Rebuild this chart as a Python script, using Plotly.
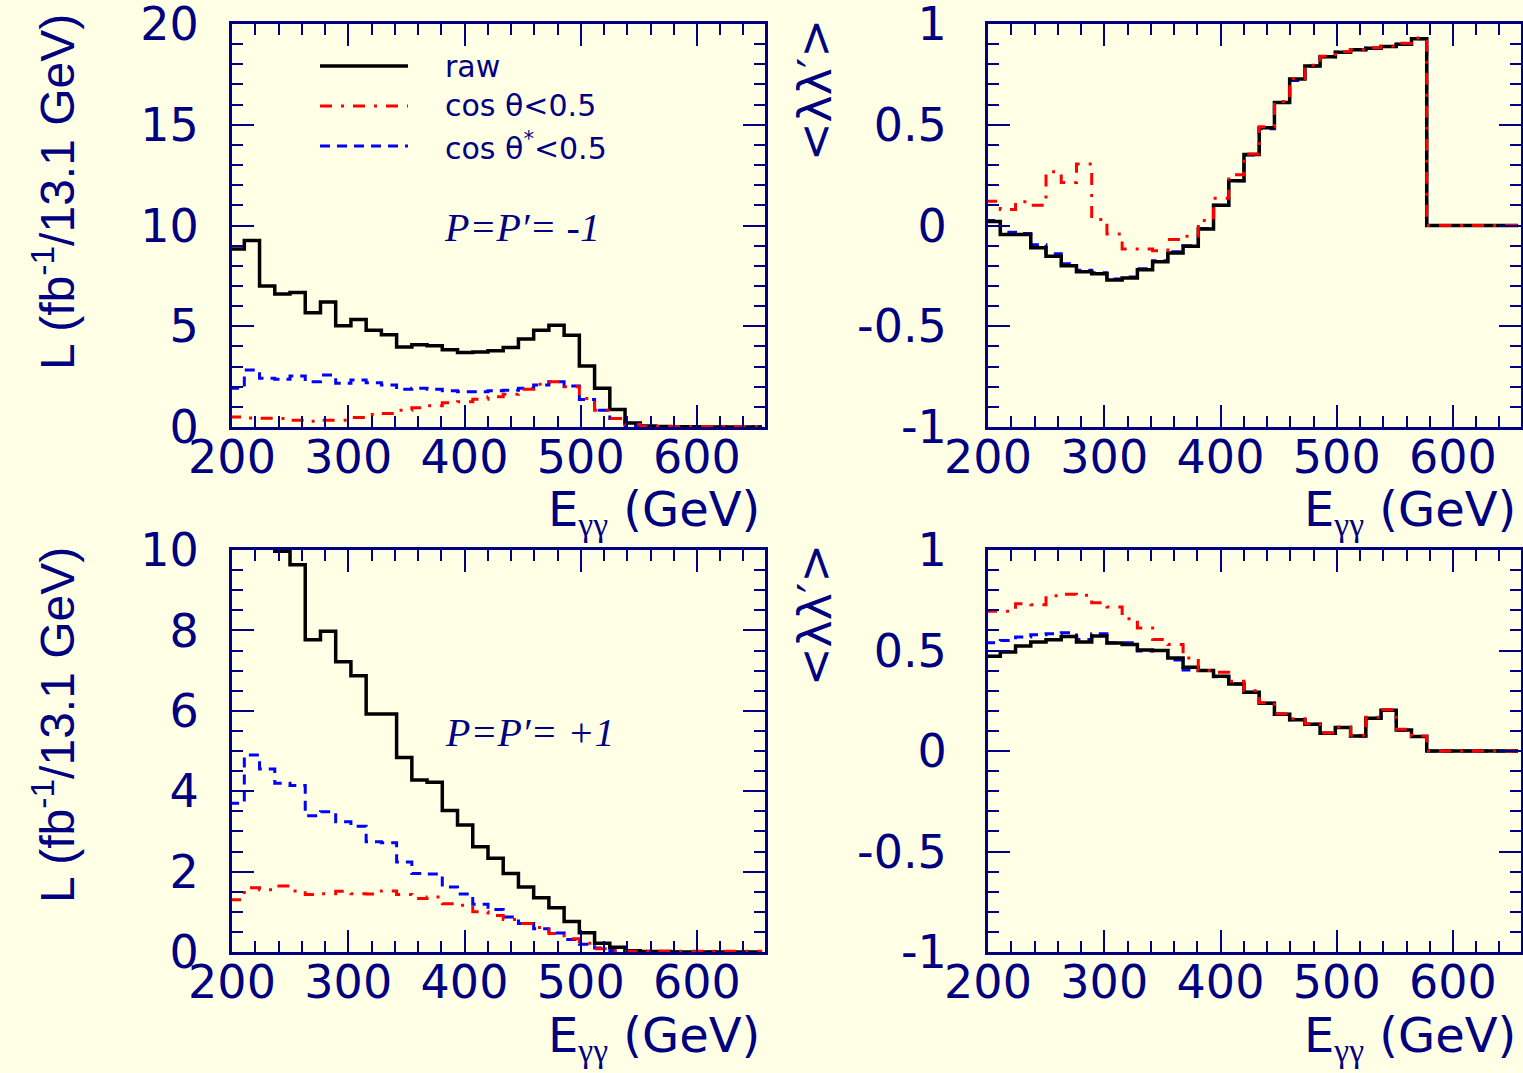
import plotly.graph_objects as go

W, H = 1523, 1073
BG = "#FFFFE6"
NAVY = "#000080"

# ---------------- data ----------------
BIN_LO = 197.5      # first bin edge (GeV)
BIN_W = 13.1        # bin width (GeV)
N_BINS = 35
edges = [BIN_LO + BIN_W * i for i in range(N_BINS + 1)]

# P = P' = -1 : luminosity (fb^-1 / 13.1 GeV)
lum_m_raw = [8.83, 9.25, 7.0, 6.6, 6.67, 5.67, 6.2, 5.03, 5.33, 4.8, 4.58, 3.97, 4.08, 4.03, 3.83,
             3.7, 3.72, 3.78, 3.95, 4.37, 4.8, 5.05, 4.55, 3.03, 1.92, 0.87, 0.2, 0.05, 0.02, 0.01,
             0.01, 0.0, 0.0, 0.0, 0.0]
lum_m_cos = [0.5, 0.45, 0.43, 0.42, 0.33, 0.28, 0.33, 0.33, 0.47, 0.62, 0.67, 0.83, 0.95, 1.05, 1.2,
             1.25, 1.38, 1.5, 1.63, 1.87, 2.12, 2.25, 2.0, 1.42, 0.83, 0.42, 0.12, 0.03, 0.02, 0.02,
             0.02, 0.02, 0.02, 0.02, 0.02]
lum_m_cosstar = [1.92, 2.83, 2.42, 2.37, 2.53, 2.25, 2.58, 2.17, 2.33, 2.2, 2.08, 1.87, 1.92, 1.87, 1.8,
                 1.75, 1.75, 1.8, 1.83, 1.92, 2.08, 2.25, 2.03, 1.37, 0.83, 0.42, 0.08, 0.02, 0.01, 0.0,
                 0.0, 0.0, 0.0, 0.0, 0.0]

# P = P' = -1 : <lambda lambda'>
ll_m_raw = [0.02, -0.045, -0.045, -0.11, -0.153, -0.2, -0.23, -0.24, -0.27, -0.26, -0.22, -0.18, -0.137,
            -0.103, -0.017, 0.1, 0.222, 0.352, 0.485, 0.61, 0.727, 0.792, 0.838, 0.86, 0.872, 0.88,
            0.888, 0.9, 0.927, 0.0, 0.0, 0.0, 0.0, 0.0, 0.0]
ll_m_cos = [0.12, 0.08, 0.118, 0.10, 0.267, 0.213, 0.305, 0.03, -0.042, -0.117, -0.117, -0.125, -0.07,
            -0.053, 0.025, 0.135, 0.252, 0.355, 0.49, 0.615, 0.73, 0.795, 0.84, 0.862, 0.874, 0.882,
            0.89, 0.905, 0.93, 0.0, 0.0, 0.0, 0.0, 0.0, 0.0]
ll_m_cosstar = [0.025, -0.033, -0.04, -0.095, -0.14, -0.19, -0.222, -0.235, -0.265, -0.255, -0.215,
                -0.175, -0.13, -0.1, -0.015, 0.1, 0.222, 0.35, 0.48, 0.61, 0.72, 0.792, 0.838, 0.86,
                0.872, 0.88, 0.888, 0.9, 0.927, 0.0, 0.0, 0.0, 0.0, 0.0, 0.0]

# P = P' = +1 : luminosity
lum_p_raw = [11.0, 11.5, 10.6, 9.97, 9.63, 7.77, 7.98, 7.22, 6.87, 5.92, 5.92, 4.84, 4.28, 4.22, 3.52,
             3.16, 2.62, 2.33, 1.95, 1.62, 1.35, 1.10, 0.76, 0.48, 0.22, 0.12, 0.03, 0.01, 0.01, 0.0,
             0.0, 0.0, 0.0, 0.0, 0.0]
lum_p_cos = [1.3, 1.6, 1.55, 1.64, 1.52, 1.43, 1.45, 1.51, 1.45, 1.44, 1.52, 1.43, 1.33, 1.37, 1.2,
             1.16, 1.0, 0.91, 0.81, 0.71, 0.61, 0.46, 0.33, 0.22, 0.08, 0.03, 0.02, 0.02, 0.02, 0.02,
             0.02, 0.02, 0.02, 0.02, 0.02]
lum_p_cosstar = [3.7, 4.9, 4.55, 4.2, 4.14, 3.39, 3.49, 3.24, 3.13, 2.74, 2.72, 2.24, 1.95, 1.94, 1.62,
                 1.44, 1.19, 1.06, 0.87, 0.71, 0.58, 0.47, 0.31, 0.19, 0.1, 0.04, 0.01, 0.0, 0.0, 0.0,
                 0.0, 0.0, 0.0, 0.0, 0.0]

# P = P' = +1 : <lambda lambda'>
ll_p_raw = [0.472, 0.492, 0.522, 0.542, 0.553, 0.57, 0.542, 0.572, 0.537, 0.53, 0.503, 0.5, 0.463,
            0.417, 0.4, 0.372, 0.333, 0.292, 0.238, 0.183, 0.155, 0.133, 0.088, 0.117, 0.075, 0.163,
            0.203, 0.105, 0.072, 0.0, 0.0, 0.0, 0.0, 0.0, 0.0]
ll_p_cos = [0.695, 0.695, 0.733, 0.728, 0.772, 0.78, 0.775, 0.738, 0.717, 0.658, 0.612, 0.555, 0.53,
            0.463, 0.4, 0.392, 0.347, 0.3, 0.24, 0.185, 0.16, 0.135, 0.09, 0.12, 0.078, 0.168, 0.205,
            0.108, 0.075, 0.0, 0.0, 0.0, 0.0, 0.0, 0.0]
ll_p_cosstar = [0.538, 0.55, 0.567, 0.578, 0.583, 0.588, 0.555, 0.583, 0.538, 0.538, 0.497, 0.5, 0.453,
                0.403, 0.4, 0.37, 0.333, 0.292, 0.238, 0.183, 0.155, 0.133, 0.088, 0.117, 0.075, 0.163,
                0.203, 0.105, 0.072, 0.0, 0.0, 0.0, 0.0, 0.0, 0.0]

series_names = ["raw", "cos θ<0.5", "cos θ*<0.5"]
x_ticks = [200, 300, 400, 500, 600]
ll_ticks = [-1, -0.5, 0, 0.5, 1]
ll_ticktext = ["-1", "-0.5", "0", "0.5", "1"]

# ---------------- styles ----------------
STY_RAW = dict(color="black", width=3.5, dash="solid")
STY_COS = dict(color="#ff0000", width=3, dash="12px,9px,3px,9px")
STY_STAR = dict(color="#0000ff", width=3, dash="10px,7px")


def px(x):
    return x / W


def py(y):
    return 1 - y / H


fig = go.Figure()

panels = [
    ("x", "y", lum_m_raw, lum_m_cos, lum_m_cosstar),
    ("x2", "y2", ll_m_raw, ll_m_cos, ll_m_cosstar),
    ("x3", "y3", lum_p_raw, lum_p_cos, lum_p_cosstar),
    ("x4", "y4", ll_p_raw, ll_p_cos, ll_p_cosstar),
]

for xa, ya, raw, cos_, star in panels:
    for vals, sty, name in [(star, STY_STAR, series_names[2]),
                            (raw, STY_RAW, series_names[0]),
                            (cos_, STY_COS, series_names[1])]:
        fig.add_trace(go.Scatter(
            x=edges, y=list(vals) + [vals[-1]], mode="lines", name=name,
            line=dict(shape="hv", **sty), xaxis=xa, yaxis=ya,
            showlegend=False, hoverinfo="skip"))

TICKFONT = dict(family="DejaVu Sans", size=46, color=NAVY)


def base_axis(**kw):
    d = dict(showline=True, linecolor=NAVY, linewidth=3, mirror="allticks",
             ticks="inside", ticklen=22, tickwidth=2, tickcolor=NAVY, automargin=False,
             ticklabeloverflow="allow",
             showgrid=False, zeroline=False, tickfont=TICKFONT)
    d.update(kw)
    return d


def minor(dtick, tick0):
    return dict(ticks="inside", ticklen=11, tickwidth=2, tickcolor=NAVY,
                tickmode="linear", tick0=tick0, dtick=dtick, showgrid=False)


def xaxis(domain, anchor):
    return base_axis(domain=domain, anchor=anchor, range=[200, 658.5],
                     tickmode="array", tickvals=x_ticks, ticklabelstandoff=-12,
                     minor=minor(20, 200))


XL = [px(232), px(765)]
XR = [px(988), px(1521)]
YT = [py(427), py(24)]
YB = [py(952), py(550)]

fig.update_layout(
    width=W, height=H, autosize=False,
    margin=dict(l=0, r=0, t=0, b=0, pad=0),
    paper_bgcolor=BG, plot_bgcolor=BG,
    xaxis=xaxis(XL, "y"),
    xaxis2=xaxis(XR, "y2"),
    xaxis3=xaxis(XL, "y3"),
    xaxis4=xaxis(XR, "y4"),
    yaxis=base_axis(domain=YT, anchor="x", range=[0, 20], tickmode="linear", tick0=0, dtick=5,
                    ticklabelstandoff=21, minor=minor(1, 0)),
    yaxis2=base_axis(domain=YT, anchor="x2", range=[-1, 1], tickmode="array",
                     tickvals=ll_ticks, ticktext=ll_ticktext, ticklabelstandoff=29,
                     minor=minor(0.1, 0)),
    yaxis3=base_axis(domain=YB, anchor="x3", range=[0, 10], tickmode="linear", tick0=0, dtick=2,
                     ticklabelstandoff=21, minor=minor(0.5, 0)),
    yaxis4=base_axis(domain=YB, anchor="x4", range=[-1, 1], tickmode="array",
                     tickvals=ll_ticks, ticktext=ll_ticktext, ticklabelstandoff=29,
                     minor=minor(0.1, 0)),
)

annotations = []

# y titles (left)
for yc in (192, 725):
    annotations.append(dict(
        text="L (fb<sup>-1</sup>/13.1 GeV)", textangle=-90, x=px(54), y=py(yc),
        xref="paper", yref="paper", xanchor="center", yanchor="middle", showarrow=False,
        font=dict(family="Liberation Sans Narrow, Arial Narrow, Liberation Sans", size=48, color=NAVY)))
# y titles (right)
for yc in (90, 615):
    annotations.append(dict(
        text="&lt;λλ′&gt;", textangle=-90, x=px(815), y=py(yc),
        xref="paper", yref="paper", xanchor="center", yanchor="middle", showarrow=False,
        font=dict(family="DejaVu Sans", size=46, color=NAVY)))
# x titles
for xr, yc in ((762, 512), (1518, 512), (762, 1038), (1518, 1038)):
    annotations.append(dict(
        text="E<sub><span style='font-family:Liberation Serif'>γγ</span></sub> (GeV)",
        x=px(xr), y=py(yc), xref="paper", yref="paper", xanchor="right", yanchor="middle",
        showarrow=False, font=dict(family="DejaVu Sans", size=48, color=NAVY)))

# polarisation labels
annotations.append(dict(text="<i>P=P′= -1</i>", x=px(522), y=py(227), xref="paper", yref="paper",
                        xanchor="center", yanchor="middle", showarrow=False,
                        font=dict(family="Liberation Serif", size=40, color=NAVY)))
annotations.append(dict(text="<i>P=P′= +1</i>", x=px(530), y=py(732), xref="paper", yref="paper",
                        xanchor="center", yanchor="middle", showarrow=False,
                        font=dict(family="Liberation Serif", size=40, color=NAVY)))

# manual legend
legend_rows = [(66, STY_RAW, "raw"), (106, STY_COS, "cos θ&lt;0.5"),
               (146, STY_STAR, "cos θ<sup>*</sup>&lt;0.5")]
shapes = []
for yy, sty, txt in legend_rows:
    shapes.append(dict(type="line", xref="paper", yref="paper", x0=px(320), x1=px(408),
                       y0=py(yy), y1=py(yy), line=dict(color=sty["color"], width=sty["width"],
                                                       dash=sty["dash"])))
    annotations.append(dict(text=txt, x=px(443), y=py(yy), xref="paper", yref="paper",
                            xanchor="left", yanchor="middle", showarrow=False,
                            font=dict(family="DejaVu Sans", size=30, color=NAVY)))

fig.update_layout(annotations=annotations, shapes=shapes)

fig.write_html("out.html",
               config={"displayModeBar": False},
               post_script="document.body.style.margin='0';"
                           "document.body.style.background='" + BG + "';")
